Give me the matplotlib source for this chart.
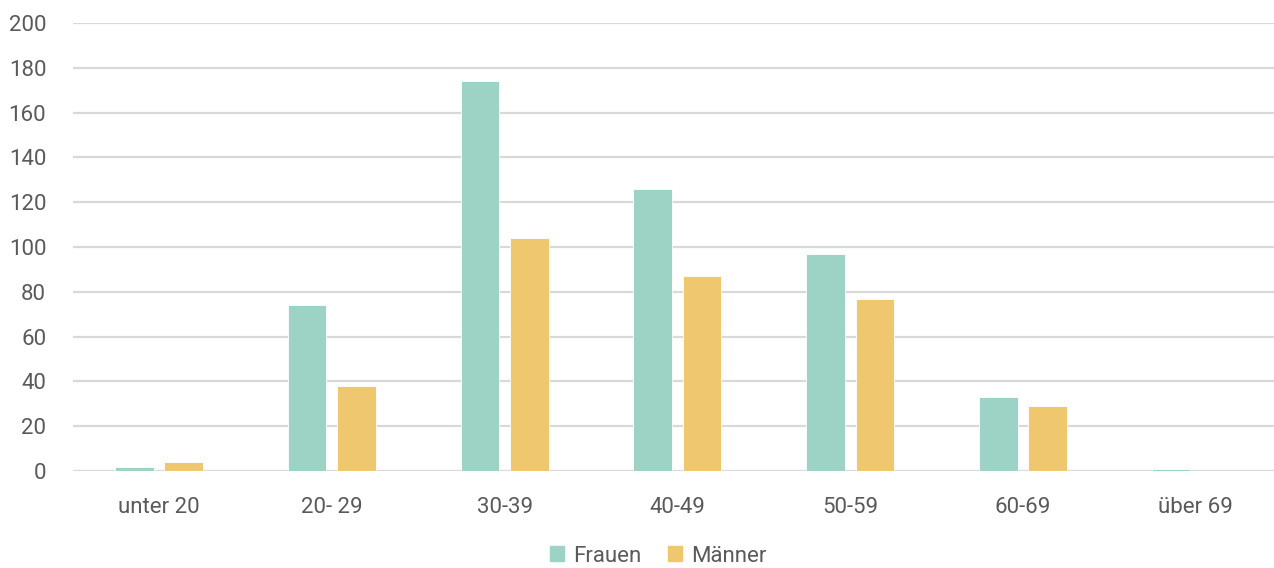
import numpy as np
import matplotlib.pyplot as plt
from matplotlib.patches import Patch

categories = ['unter 20', '20- 29', '30-39', '40-49', '50-59', '60-69', 'über 69']
frauen = [2, 74, 174, 126, 97, 33, 1]
maenner = [4, 38, 104, 87, 77, 29, 0]
yticks = [0, 20, 40, 60, 80, 100, 120, 140, 160, 180, 200]

col_f = '#9dd3c5'
col_m = '#efc76e'
txt = '#5a5a5a'

plt.rcParams['font.family'] = ['Roboto', 'DejaVu Sans']

fig = plt.figure(figsize=(12.74, 5.68), dpi=100)
# axes runs a little past the right edge so the gridlines reach the border
ax = fig.add_axes([72.6 / 1274, 1 - 471 / 568, 1209.6 / 1274, 448 / 568])

x = np.arange(len(categories))
w = 0.224
off = 0.143
ax.bar(x - off, frauen, w, color=col_f, edgecolor='white', linewidth=0.6, zorder=3)
ax.bar(x + off, maenner, w, color=col_m, edgecolor='white', linewidth=0.6, zorder=3)

ax.set_xlim(-0.5, len(categories) - 0.5)
ax.set_ylim(0, 200)
ax.set_yticks(yticks)
ax.set_xticks(x)
ax.set_xticklabels(categories)
ax.tick_params(length=0, labelsize=16, labelcolor=txt)
ax.tick_params(axis='y', pad=19)
ax.tick_params(axis='x', pad=19)

ax.grid(axis='y', color='#d9d9d9', linewidth=1.6, zorder=0)
for s in ax.spines.values():
    s.set_visible(False)

handles = [Patch(color=col_f, label='Frauen'), Patch(color=col_m, label='Männer')]
fig.legend(handles=handles, loc='center', bbox_to_anchor=(658 / 1274, 1 - 556 / 568),
           ncol=2, frameon=False, fontsize=16, labelcolor=txt,
           handlelength=0.65, handleheight=0.65, handletextpad=0.4, columnspacing=1.2,
           borderpad=0)

fig.savefig('out.png', dpi=100)
